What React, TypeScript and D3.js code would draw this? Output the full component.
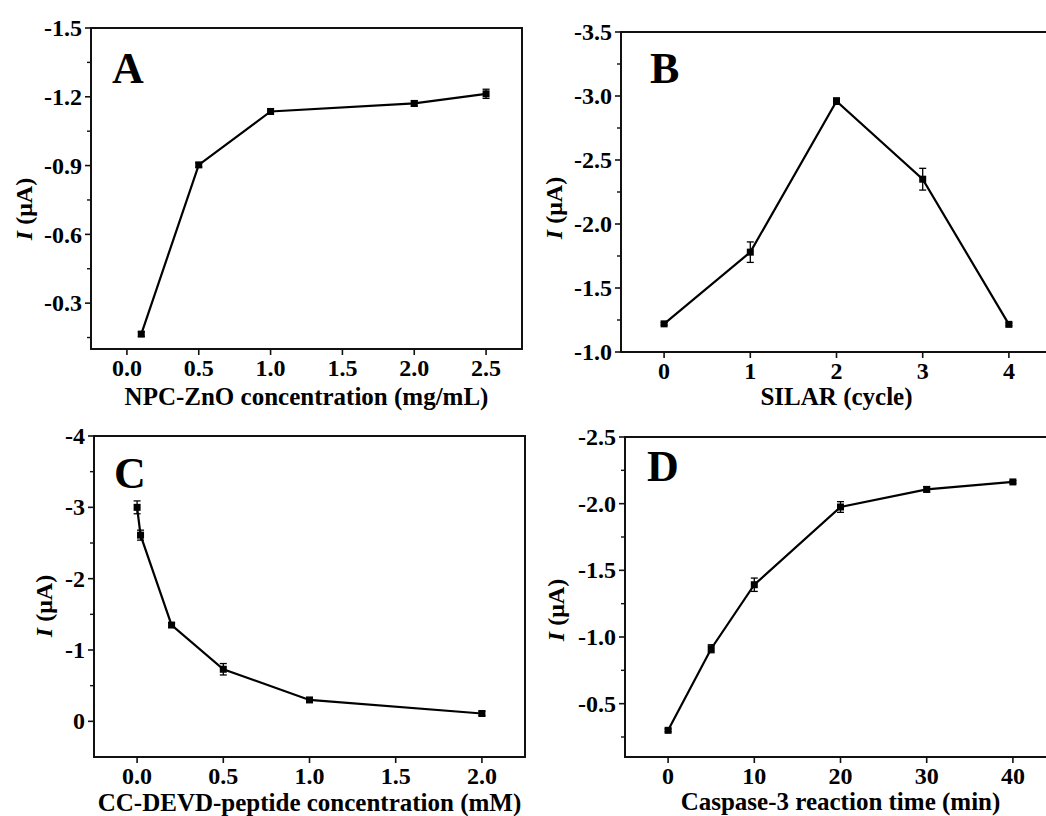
import React from "react";
import * as d3 from "d3";

const W = 1046;
const H = 816;
const FONT = "'Liberation Serif', 'Times New Roman', serif";

// panel A: NPC-ZnO concentration
const concA = [0.1, 0.5, 1.0, 2.0, 2.5];
const currA = [-0.165, -0.903, -1.136, -1.171, -1.213];
const errA = [0.01, 0.01, 0.012, 0.012, 0.02];
const xTicksA = [0, 0.5, 1.0, 1.5, 2.0, 2.5];
const yTicksA = [-1.5, -1.2, -0.9, -0.6, -0.3];

// panel B: SILAR cycles
const cycleB = [0, 1, 2, 3, 4];
const currB = [-1.22, -1.78, -2.96, -2.35, -1.216];
const errB = [0.01, 0.08, 0.025, 0.085, 0.01];
const xTicksB = [0, 1, 2, 3, 4];
const yTicksB = [-3.5, -3.0, -2.5, -2.0, -1.5, -1.0];

// panel C: CC-DEVD-peptide concentration
const concC = [0, 0.02, 0.2, 0.5, 1.0, 2.0];
const currC = [-3.0, -2.61, -1.35, -0.73, -0.3, -0.11];
const errC = [0.09, 0.07, 0.03, 0.08, 0.03, 0.03];
const xTicksC = [0, 0.5, 1.0, 1.5, 2.0];
const yTicksC = [-4, -3, -2, -1, 0];

// panel D: caspase-3 reaction time
const timeD = [0, 5, 10, 20, 30, 40];
const currD = [-0.3, -0.912, -1.392, -1.975, -2.107, -2.163];
const errD = [0.01, 0.03, 0.05, 0.04, 0.02, 0.01];
const xTicksD = [0, 10, 20, 30, 40];
const yTicksD = [-2.5, -2.0, -1.5, -1.0, -0.5];

// origin-style labels use a plain hyphen, not d3's unicode minus
const fmt = (spec: string) => {
  const f = d3.format(spec);
  return (v: number) => f(v).replace("\u2212", "-");
};

const panels = [
  {
    letter: "A", xs: concA, ys: currA, es: errA,
    xDomain: [-0.25, 2.75], yDomain: [-0.1, -1.5],
    xTicks: xTicksA, yTicks: yTicksA, yStep: 0.3,
    xFmt: fmt(".1f"), yFmt: fmt(".1f"),
    box: { l: 91, t: 28, r: 522, b: 349 },
    title: "NPC-ZnO concentration (mg/mL)", titleY: 405,
    letterPos: [112, 83], yLab: [32, 209],
  },
  {
    letter: "B", xs: cycleB, ys: currB, es: errB,
    xDomain: [-0.5, 4.5], yDomain: [-1.0, -3.5],
    xTicks: xTicksB, yTicks: yTicksB, yStep: 0.5,
    xFmt: fmt("d"), yFmt: fmt(".1f"),
    box: { l: 621, t: 32, r: 1052, b: 352 },
    title: "SILAR (cycle)", titleY: 405,
    letterPos: [650, 83], yLab: [562, 208],
  },
  {
    letter: "C", xs: concC, ys: currC, es: errC,
    xDomain: [-0.25, 2.25], yDomain: [0.5, -4],
    xTicks: xTicksC, yTicks: yTicksC, yStep: 1,
    xFmt: fmt(".1f"), yFmt: fmt("d"),
    box: { l: 94, t: 436, r: 525, b: 757 },
    title: "CC-DEVD-peptide concentration (mM)", titleY: 811,
    letterPos: [114, 488], yLab: [52, 606],
  },
  {
    letter: "D", xs: timeD, ys: currD, es: errD,
    xDomain: [-5, 45], yDomain: [-0.1, -2.5],
    xTicks: xTicksD, yTicks: yTicksD, yStep: 0.5,
    xFmt: fmt("d"), yFmt: fmt(".1f"),
    box: { l: 625, t: 437, r: 1056, b: 757 },
    title: "Caspase-3 reaction time (min)", titleY: 810,
    letterPos: [647, 481], yLab: [564, 610],
  },
];

const Panel = ({ p }) => {
  const { box } = p;
  const x = d3.scaleLinear().domain(p.xDomain).range([box.l, box.r]);
  const y = d3.scaleLinear().domain(p.yDomain).range([box.b, box.t]);
  const line = d3
    .line<number>()
    .x((d, i) => x(p.xs[i]))
    .y(d => y(d));
  // minor ticks halfway between majors
  const lo = Math.min(...p.yDomain);
  const hi = Math.max(...p.yDomain);
  const minor = p.yTicks
    .map(t => t + p.yStep / 2)
    .concat([p.yTicks[0] - p.yStep / 2])
    .filter(t => t > lo + 1e-6 && t < hi - 1e-6);
  const ms = 7;

  return (
    <g>
      <rect
        x={box.l}
        y={box.t}
        width={box.r - box.l}
        height={box.b - box.t}
        fill="none"
        stroke="#111"
        strokeWidth={2}
      />
      {p.yTicks.map((t, i) => (
        <g key={"y" + i}>
          <line x1={box.l - 6} x2={box.l} y1={y(t)} y2={y(t)} stroke="#111" strokeWidth={1.6} />
          <text
            x={box.l - 9}
            y={y(t)}
            dy="0.34em"
            textAnchor="end"
            fontSize={24}
            fontWeight="bold"
          >
            {p.yFmt(t)}
          </text>
        </g>
      ))}
      {minor.map((t, i) => (
        <line key={"m" + i} x1={box.l - 4} x2={box.l} y1={y(t)} y2={y(t)} stroke="#111" strokeWidth={1.4} />
      ))}
      {p.xTicks.map((t, i) => (
        <g key={"x" + i}>
          <line x1={x(t)} x2={x(t)} y1={box.b} y2={box.b + 6} stroke="#111" strokeWidth={1.6} />
          <text x={x(t)} y={box.b + 27} textAnchor="middle" fontSize={24} fontWeight="bold">
            {p.xFmt(t)}
          </text>
        </g>
      ))}
      <text
        x={(box.l + box.r) / 2}
        y={p.titleY}
        textAnchor="middle"
        fontSize={25}
        fontWeight="bold"
      >
        {p.title}
      </text>
      <text
        transform={`translate(${p.yLab[0]},${p.yLab[1]}) rotate(-90)`}
        textAnchor="middle"
        fontSize={24}
        fontWeight="bold"
      >
        <tspan fontStyle="italic">I</tspan> (μA)
      </text>
      <text x={p.letterPos[0]} y={p.letterPos[1]} fontSize={44} fontWeight="bold">
        {p.letter}
      </text>
      <path d={line(p.ys) || ""} fill="none" stroke="#000" strokeWidth={2.2} />
      {p.ys.map((v, i) => (
        <g key={"e" + i}>
          <line x1={x(p.xs[i])} x2={x(p.xs[i])} y1={y(v - p.es[i])} y2={y(v + p.es[i])} stroke="#000" strokeWidth={1.3} />
          <line x1={x(p.xs[i]) - 3.5} x2={x(p.xs[i]) + 3.5} y1={y(v - p.es[i])} y2={y(v - p.es[i])} stroke="#000" strokeWidth={1.3} />
          <line x1={x(p.xs[i]) - 3.5} x2={x(p.xs[i]) + 3.5} y1={y(v + p.es[i])} y2={y(v + p.es[i])} stroke="#000" strokeWidth={1.3} />
          <rect x={x(p.xs[i]) - ms / 2} y={y(v) - ms / 2} width={ms} height={ms} fill="#000" />
        </g>
      ))}
    </g>
  );
};

export default function App() {
  return (
    <div style={{ position: "absolute", left: 0, top: 0 }}>
      <svg width={W} height={H} style={{ display: "block", background: "#fff" }} fontFamily={FONT}>
        <rect width={W} height={H} fill="#fff" />
        {panels.map(p => (
          <Panel key={p.letter} p={p} />
        ))}
      </svg>
    </div>
  );
}
